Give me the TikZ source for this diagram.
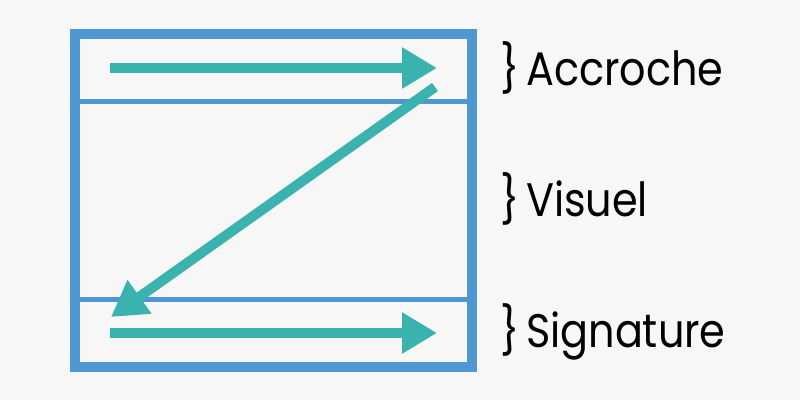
\documentclass[tikz,border=0pt]{standalone}
\usepackage{fontspec}
\setmainfont{Poppins}
\usetikzlibrary{arrows.meta}
\definecolor{bgc}{HTML}{F7F7F7}
\definecolor{frameblue}{HTML}{4F97D1}
\definecolor{tealc}{HTML}{3AB2AD}
\tikzset{
  frame/.style={draw=frameblue,line width=10pt},
  divider/.style={draw=frameblue,line width=5pt},
  flow/.style={draw=tealc,line width=10pt,-{Triangle[length=35pt,width=39pt]},fill=tealc},
  lbl/.style={anchor=base west,inner sep=0pt,xscale=0.88,font=\fontsize{47}{52}\selectfont,text=black}
}
\begin{document}
\begin{tikzpicture}[x=1pt,y=-1pt]
\fill[bgc] (0,0) rectangle (800,400);
\useasboundingbox (0,0) rectangle (800,400);
\coordinate (tl) at (75,34);
\coordinate (br) at (472,367);
\coordinate (d1l) at (75,101.5);
\coordinate (d1r) at (472,101.5);
\coordinate (d2l) at (75,299.5);
\coordinate (d2r) at (472,299.5);
\draw[frame] (tl) rectangle (br);
\draw[divider] (d1l) -- (d1r);
\draw[divider] (d2l) -- (d2r);
\coordinate (a1s) at (110,68);
\coordinate (a1e) at (437,68);
\coordinate (a2s) at (435,87);
\coordinate (a2e) at (111,317);
\coordinate (a3s) at (110,333);
\coordinate (a3e) at (437,333);
\draw[flow] (a1s) -- (a1e);
\draw[flow] (a2s) -- (a2e);
\draw[flow] (a3s) -- (a3e);
\node[lbl] (acc) at (500,85) {\}\,Accroche};
\node[lbl] (vis) at (500,216) {\}\,Visuel};
\node[lbl] (sig) at (500,347) {\}\,Signature};
\end{tikzpicture}
\end{document}
